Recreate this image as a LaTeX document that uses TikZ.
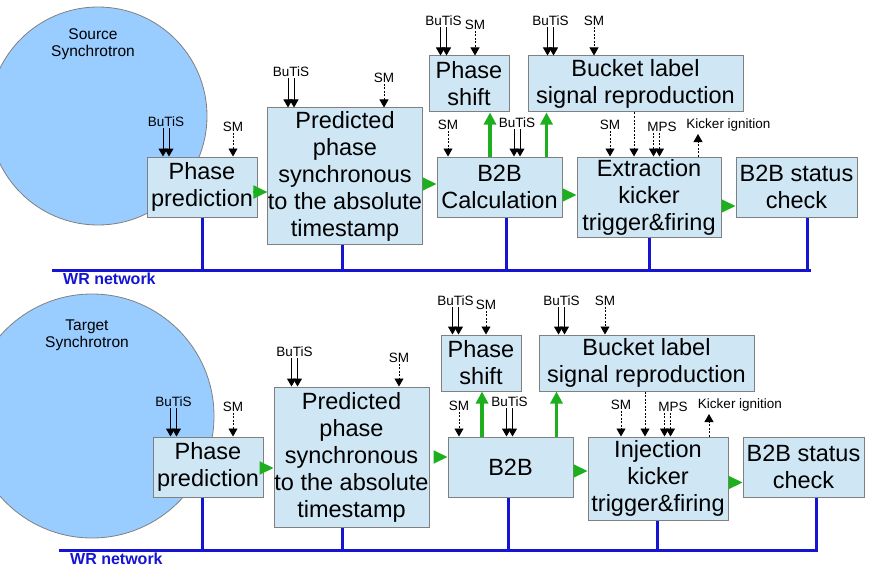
\documentclass[tikz,border=0pt]{standalone}
\usepackage{fontspec}
\setmainfont{Liberation Sans}
\usetikzlibrary{arrows.meta}

\definecolor{boxfill}{RGB}{207,231,245}
\definecolor{boxline}{RGB}{128,128,128}
\definecolor{ringfill}{RGB}{153,204,255}
\definecolor{wrblue}{RGB}{20,20,210}
\definecolor{flowgreen}{RGB}{30,175,30}

\begin{document}
\begin{tikzpicture}[x=1pt,y=-1pt]
    \tikzstyle{box}=[draw=boxline,fill=boxfill,line width=1pt,inner sep=0pt,align=center,
      font=\fontsize{23.5}{27}\selectfont]
    \tikzstyle{ring}=[draw=boxline,fill=ringfill,line width=0.8pt]
    \tikzstyle{sig}=[inner sep=1pt,font=\fontsize{13.5}{14}\selectfont]
    \tikzstyle{dbl}=[line width=1pt,-{Triangle[length=8pt,width=9pt]}]
    \tikzstyle{sm}=[line width=0.8pt,dash pattern=on 2pt off 1.5pt,-{Triangle[length=8pt,width=9pt]}]
    \tikzstyle{flow}=[flowgreen,line width=2pt,-{Triangle[length=14pt,width=13pt]}]
    \tikzstyle{lift}=[flowgreen,line width=3.5pt,-{Triangle[length=12pt,width=12pt]}]
    \tikzstyle{wr}=[wrblue,line width=3pt]
    \tikzstyle{wrlabel}=[wrblue,inner sep=0pt,anchor=west,font=\fontsize{16}{16}\selectfont\bfseries]
    \clip (0,0) rectangle (869,567);

    % source synchrotron
    \fill[ring] (98,116) circle (109);
    \node[align=center,font=\fontsize{15.5}{17}\selectfont] (src) at (93,44) {Source\\Synchrotron};
    \node[box,minimum width=110,minimum height=60] (pp1) at (202,187) {Phase\\prediction};
    \node[box,minimum width=154,minimum height=136] (pd1) at (345,176)
      {Predicted\\phase\\synchronous\\to the absolute\\timestamp};
    \node[box,minimum width=80,minimum height=56] (ps1) at (469,84) {Phase\\shift};
    \node[box,minimum width=215,minimum height=56] (bl1) at (635.5,84) {Bucket label\\signal reproduction};
    \node[box,minimum width=125,minimum height=60] (bc1) at (499.5,187) {B2B\\Calculation};
    \node[box,minimum width=144,minimum height=80] (ex1) at (649,197) {Extraction\\kicker\\trigger\&firing};
    \node[box,minimum width=121,minimum height=60] (st1) at (796.5,187) {B2B status\\check};

    % target synchrotron
    \fill[ring] (92,416) circle (122);
    \node[align=center,font=\fontsize{15.5}{17}\selectfont] (tgt) at (87,335) {Target\\Synchrotron};
    \node[box,minimum width=110,minimum height=60] (pp2) at (208,467) {Phase\\prediction};
    \node[box,minimum width=155,minimum height=140] (pd2) at (351.5,457)
      {Predicted\\phase\\synchronous\\to the absolute\\timestamp};
    \node[box,minimum width=80,minimum height=56] (ps2) at (481,363) {Phase\\shift};
    \node[box,minimum width=215,minimum height=56] (bl2) at (646.5,363) {Bucket label\\signal reproduction};
    \node[box,minimum width=125,minimum height=60] (bc2) at (510.5,467) {B2B};
    \node[box,minimum width=140,minimum height=83] (in2) at (658,478.5) {Injection\\kicker\\trigger\&firing};
    \node[box,minimum width=121,minimum height=60] (st2) at (803.5,467) {B2B status\\check};

    % WR network
    \coordinate (wr1a) at (52,270);
    \coordinate (wr1b) at (811,270);
    \coordinate (wr2a) at (59,550);
    \coordinate (wr2b) at (818,550);
    \draw[wr] (wr1a) -- (wr1b);
    \draw[wr] (wr2a) -- (wr2b);
    \node[wrlabel] (wrl1) at (63,279) {WR network};
    \node[wrlabel] (wrl2) at (70,559) {WR network};
    \foreach \b/\dx/\w in {pp1/0/wr1a,pd1/-3/wr1a,bc1/6.5/wr1a,ex1/0/wr1a,st1/10.5/wr1a,
                           pp2/-6/wr2a,pd2/-9.5/wr2a,bc2/-2.5/wr2a,in2/-1/wr2a,st2/12.5/wr2a}
      \draw[wr] ([xshift=\dx pt]\b.south) -- ([xshift=\dx pt]\b.south |- \w);

    % green flow
    \foreach \a/\b/\dy in {pp1/pd1/-5,pd1/bc1/-8,bc1/ex1/-8,ex1/st1/-9,
                           pp2/pd2/-1,pd2/bc2/0,bc2/in2/-4,in2/st2/-4}
      \draw[flow] ([yshift=\dy pt]\a.east -| \b.west) ++(-14pt,0) -- ++(14pt,0);
    \draw[lift] ([xshift=21pt]ps1.south |- bc1.north) -- ([xshift=21pt]ps1.south);
    \draw[lift] ([xshift=19pt]bl1.south west |- bc1.north) -- ([xshift=19pt]bl1.south west);
    \draw[lift] ([xshift=1pt]ps2.south |- bc2.north) -- ([xshift=1pt]ps2.south);
    \draw[lift] ([xshift=18pt]bl2.south west |- bc2.north) -- ([xshift=18pt]bl2.south west);

    % BuTiS inputs
    \foreach \n/\x/\y/\b in {a/166/122/pp1,b/291/72/pd1,c/443.5/21/ps1,d/550.5/21/bl1,e/517/123/bc1,
                             f/173.5/402/pp2,g/294.5/352/pd2,h/455.5/301/ps2,i/561.5/301/bl2,j/509.5/402/bc2}{
      \node[sig] (bt\n) at (\x,\y) {BuTiS};
      \draw[dbl] ([xshift=-3pt]bt\n.south) -- ([xshift=-3pt]bt\n.south |- \b.north);
      \draw[dbl] ([xshift=3pt]bt\n.south) -- ([xshift=3pt]bt\n.south |- \b.north);
    }

    % SM inputs
    \foreach \n/\x/\y/\b in {a/233/127/pp1,b/384/78/pd1,c/475/25/ps1,d/594/21/bl1,e/448/125/bc1,f/610/125/ex1,
                             g/233/407/pp2,h/399/358/pd2,i/486/305/ps2,j/605/301/bl2,k/459/406/bc2,l/621/405/in2}{
      \node[sig] (sm\n) at (\x,\y) {SM};
      \draw[sm] (sm\n.south) -- (sm\n.south |- \b.north);
    }

    % bucket label to kicker
    \draw[sm] ([xshift=-1.5pt]bl1.south) -- ([xshift=-1.5pt]bl1.south |- ex1.north);
    \draw[sm] ([xshift=-1.5pt]bl2.south) -- ([xshift=-1.5pt]bl2.south |- in2.north);

    % MPS inputs
    \node[sig] (mps1) at (662,127) {MPS};
    \node[sig] (mps2) at (673,407) {MPS};
    \foreach \m/\b/\dx in {mps1/ex1/-5.5,mps2/in2/-5.5}{
      \draw[sm] ([xshift=\dx pt-3pt]\m.south) -- ([xshift=\dx pt-3pt]\m.south |- \b.north);
      \draw[sm] ([xshift=\dx pt+3pt]\m.south) -- ([xshift=\dx pt+3pt]\m.south |- \b.north);
    }

    % kicker ignition outputs
    \node[sig] (ki1) at (728.5,125) {Kicker ignition};
    \node[sig] (ki2) at (740,405) {Kicker ignition};
    \coordinate (kt1) at (698,134);
    \coordinate (kt2) at (709,414);
    \draw[sm] (kt1 |- ex1.north) -- (kt1);
    \draw[sm] (kt2 |- in2.north) -- (kt2);
\end{tikzpicture}
\end{document}
